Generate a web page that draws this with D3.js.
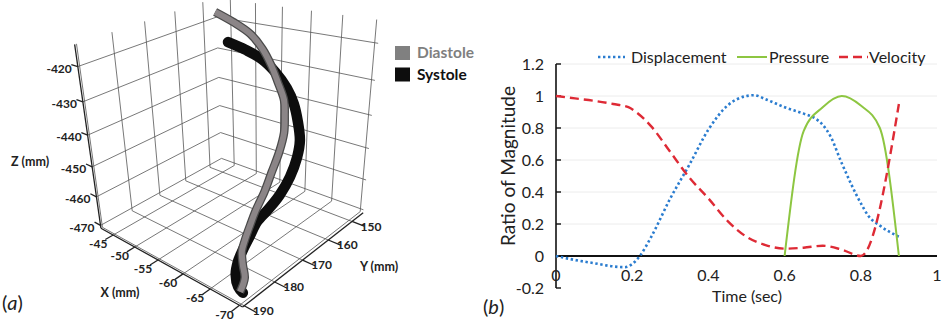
<!DOCTYPE html>
<html><head><meta charset="utf-8">
<script src="https://cdnjs.cloudflare.com/ajax/libs/d3/7.8.5/d3.min.js"></script>
<style>
body{margin:0;background:#fff;}
svg text{font-family:Lato,"Open Sans",sans-serif;fill:#222;}
</style>
</head><body>
<svg id="fig" width="946" height="324"></svg>
<script>
// ---------- panel (a): 3D centre lines (mm)
var diastole = [
  [-47.9,155.9,-414.0],[-51.5,156.2,-415.9],[-54.9,156.7,-418.2],[-57.7,158.0,-421.1],
  [-60.0,159.7,-424.2],[-62.0,161.5,-427.5],[-63.9,163.3,-431.0],[-65.0,165.4,-433.9],
  [-65.9,167.5,-437.3],[-66.5,170.4,-441.0],[-66.8,173.5,-444.9],[-67.1,176.5,-448.7],
  [-67.2,179.5,-452.2],[-67.4,181.8,-455.1],[-67.6,183.9,-458.0],[-67.8,185.3,-460.3],
  [-68.6,186.6,-462.8],[-69.4,187.6,-465.3],[-69.6,189.5,-468.0]
];
var systole = [
  [-52.9,160.7,-419.8],[-55.8,160.1,-421.3],[-58.5,159.8,-423.1],[-61.1,160.4,-425.6],
  [-63.4,161.3,-428.7],[-65.2,162.7,-431.7],[-66.7,164.5,-435.2],[-68.0,166.6,-438.7],
  [-68.6,168.8,-442.0],[-68.9,171.8,-445.8],[-68.8,175.0,-449.3],[-68.4,177.8,-452.0],
  [-67.9,180.6,-454.5],[-67.9,182.9,-457.2],[-67.9,185.2,-459.9],[-68.0,187.0,-462.2],
  [-68.4,188.5,-464.7],[-69.2,189.3,-467.0],[-69.9,189.2,-468.2]
];
var xTicks = [-45, -50, -55, -60, -65, -70];
var yTicks = [150, 160, 170, 180, 190];
var zTicks = [-470, -460, -450, -440, -430, -420];
var xLim = [-42, -70.5], yLim = [190.5, 145], zLim = [-471, -414];
var legendA = ["Diastole", "Systole"];

// ---------- panel (b): normalised curves
var timeTicks = [0, 0.2, 0.4, 0.6, 0.8, 1];
var ratioTicks = [-0.2, 0, 0.2, 0.4, 0.6, 0.8, 1, 1.2];
var dispT = [0, 0.05, 0.1, 0.15, 0.18, 0.2, 0.22, 0.25, 0.3, 0.35, 0.4, 0.45, 0.5, 0.52, 0.55, 0.6, 0.65, 0.68, 0.7, 0.72, 0.75, 0.8, 0.82, 0.85, 0.9];
var dispV = [0, -0.025, -0.045, -0.065, -0.07, -0.05, 0, 0.12, 0.36, 0.57, 0.79, 0.94, 1.0, 1.005, 0.98, 0.93, 0.89, 0.86, 0.82, 0.75, 0.58, 0.33, 0.25, 0.19, 0.12];
var presT = [0.6, 0.65, 0.7, 0.75, 0.8, 0.85, 0.9];
var presV = [0, 0.78, 0.93, 1.0, 0.94, 0.8, 0];
var veloT = [0, 0.05, 0.1, 0.15, 0.19, 0.21, 0.25, 0.3, 0.35, 0.4, 0.45, 0.5, 0.55, 0.6, 0.65, 0.7, 0.75, 0.8, 0.9];
var veloV = [1, 0.985, 0.97, 0.95, 0.93, 0.9, 0.81, 0.65, 0.49, 0.36, 0.22, 0.12, 0.068, 0.046, 0.052, 0.064, 0.04, 0, 0.95];
var seriesNames = ["Displacement", "Pressure", "Velocity"];

var svg = d3.select("#fig");

// ================= panel (a) =================
var xs = d3.scaleLinear().domain(xLim).range([0, 1]);
var ys = d3.scaleLinear().domain(yLim).range([0, 1]);
var zs = d3.scaleLinear().domain(zLim).range([0, 1]);

// where some box corners sit on the page; a perspective camera is fitted to them
var anchors = [
  [[-42, 190.5, -471], [101, 228]],
  [[-70.5, 190.5, -471], [243, 307]],
  [[-70.5, 145, -471], [363, 213]],
  [[-42, 190.5, -420], [78, 67]],
  [[-42, 190.5, -440], [87, 135]],
  [[-70.5, 145, -420], [378, 43]],
  [[-42, 145, -420], [217, 17]]
];

function solve(A, b) {
  var n = b.length, M = A.map(function (r, i) { return r.concat([b[i]]); });
  for (var c = 0; c < n; c++) {
    var p = c;
    for (var r = c + 1; r < n; r++) if (Math.abs(M[r][c]) > Math.abs(M[p][c])) p = r;
    var t = M[c]; M[c] = M[p]; M[p] = t;
    for (var r2 = 0; r2 < n; r2++) {
      if (r2 === c) continue;
      var f = M[r2][c] / M[c][c];
      for (var k = c; k <= n; k++) M[r2][k] -= f * M[c][k];
    }
  }
  return M.map(function (r, i) { return r[n] / r[i]; });
}

var rows = [], rhs = [];
anchors.forEach(function (a) {
  var X = xs(a[0][0]), Y = ys(a[0][1]), Z = zs(a[0][2]), u = a[1][0], v = a[1][1];
  rows.push([X, Y, Z, 1, 0, 0, 0, 0, -u * X, -u * Y, -u * Z]); rhs.push(u);
  rows.push([0, 0, 0, 0, X, Y, Z, 1, -v * X, -v * Y, -v * Z]); rhs.push(v);
});
var N = [], nb = [];
for (var i = 0; i < 11; i++) {
  N.push([]); nb.push(0);
  for (var j = 0; j < 11; j++) {
    var s = 0;
    for (var r = 0; r < rows.length; r++) s += rows[r][i] * rows[r][j];
    N[i].push(s);
  }
  for (var r = 0; r < rows.length; r++) nb[i] += rows[r][i] * rhs[r];
}
var P = solve(N, nb);

function proj(x, y, z) {
  var X = xs(x), Y = ys(y), Z = zs(z);
  var w = P[8] * X + P[9] * Y + P[10] * Z + 1;
  return [(P[0] * X + P[1] * Y + P[2] * Z + P[3]) / w, (P[4] * X + P[5] * Y + P[6] * Z + P[7]) / w];
}
function seg(p, q) {
  var a = proj(p[0], p[1], p[2]), b = proj(q[0], q[1], q[2]);
  return "M" + a[0] + "," + a[1] + "L" + b[0] + "," + b[1];
}

var ga = svg.append("g");

// back walls and floor grid
var grid = [];
yTicks.forEach(function (y) { grid.push(seg([xLim[0], y, zLim[0]], [xLim[0], y, zLim[1]])); });
zTicks.forEach(function (z) { grid.push(seg([xLim[0], yLim[0], z], [xLim[0], yLim[1], z])); });
xTicks.forEach(function (x) { grid.push(seg([x, yLim[1], zLim[0]], [x, yLim[1], zLim[1]])); });
zTicks.forEach(function (z) { grid.push(seg([xLim[0], yLim[1], z], [xLim[1], yLim[1], z])); });
xTicks.forEach(function (x) { grid.push(seg([x, yLim[0], zLim[0]], [x, yLim[1], zLim[0]])); });
yTicks.forEach(function (y) { grid.push(seg([xLim[0], y, zLim[0]], [xLim[1], y, zLim[0]])); });
ga.selectAll("path.grid").data(grid).enter().append("path").attr("class", "grid")
  .attr("d", function (d) { return d; }).attr("fill", "none").attr("stroke", "#555").attr("stroke-width", 0.8);

// axis lines and ticks
var axes = [
  seg([xLim[0], yLim[0], zLim[0]], [xLim[0], yLim[0], zLim[1]]),
  seg([xLim[0], yLim[0], zLim[0]], [xLim[1], yLim[0], zLim[0]]),
  seg([xLim[1], yLim[0], zLim[0]], [xLim[1], yLim[1], zLim[0]])
];
xTicks.forEach(function (x) { axes.push(seg([x, yLim[0], zLim[0]], [x, 193, zLim[0]])); });
yTicks.forEach(function (y) { axes.push(seg([xLim[1], y, zLim[0]], [-72.5, y, zLim[0]])); });
zTicks.forEach(function (z) { axes.push(seg([xLim[0], yLim[0], z], [-40.5, yLim[0], z])); });
ga.selectAll("path.ax").data(axes).enter().append("path").attr("class", "ax")
  .attr("d", function (d) { return d; }).attr("fill", "none").attr("stroke", "#222").attr("stroke-width", 1.3);

// tick labels
ga.selectAll("text.zt").data(zTicks).enter().append("text").attr("class", "zt")
  .attr("x", function (d) { return proj(xLim[0], yLim[0], d)[0] - 6; })
  .attr("y", function (d) { return proj(xLim[0], yLim[0], d)[1] + 2; })
  .attr("text-anchor", "end").attr("dy", "0.35em")
  .style("font-size", "12px").style("font-weight", 700).text(function (d) { return d; });
ga.selectAll("text.xt").data(xTicks).enter().append("text").attr("class", "xt")
  .attr("x", function (d) { return proj(d, yLim[0], zLim[0])[0] - 15; })
  .attr("y", function (d) { return proj(d, yLim[0], zLim[0])[1] + 9; })
  .attr("text-anchor", "middle").attr("dy", "0.35em")
  .style("font-size", "12px").style("font-weight", 700).text(function (d) { return d; });
ga.selectAll("text.yt").data(yTicks).enter().append("text").attr("class", "yt")
  .attr("x", function (d) { return proj(xLim[1], d, zLim[0])[0] + 19; })
  .attr("y", function (d) { return proj(xLim[1], d, zLim[0])[1] + 5; })
  .attr("text-anchor", "middle").attr("dy", "0.35em")
  .style("font-size", "12px").style("font-weight", 700).text(function (d) { return d; });

ga.append("text").attr("x", 30).attr("y", 162).attr("dy", "0.35em").attr("text-anchor", "middle")
  .style("font-size", "12.5px").style("font-weight", 700).text("Z (mm)");
ga.append("text").attr("x", 120).attr("y", 293).attr("dy", "0.35em").attr("text-anchor", "middle")
  .style("font-size", "12.5px").style("font-weight", 700).text("X (mm)");
ga.append("text").attr("x", 379).attr("y", 267).attr("dy", "0.35em").attr("text-anchor", "middle")
  .style("font-size", "12.5px").style("font-weight", 700).text("Y (mm)");

// tubes
var tube = d3.line().curve(d3.curveCatmullRom)
  .x(function (d) { return proj(d[0], d[1], d[2])[0]; })
  .y(function (d) { return proj(d[0], d[1], d[2])[1]; });
ga.append("path").attr("d", tube(systole)).attr("fill", "none")
  .attr("stroke", "#0d0d0d").attr("stroke-width", 10.5).attr("stroke-linecap", "round").attr("stroke-linejoin", "round");
ga.append("path").attr("d", tube(diastole)).attr("fill", "none")
  .attr("stroke", "#4a4a4a").attr("stroke-width", 8.5).attr("stroke-linejoin", "round");
ga.append("path").attr("d", tube(diastole)).attr("fill", "none")
  .attr("stroke", "#8b8587").attr("stroke-width", 6).attr("stroke-linejoin", "round");

// legend
var legColA = d3.scaleOrdinal().domain(legendA).range(["#808080", "#0d0d0d"]);
var legA = ga.selectAll("g.leg").data(legendA).enter().append("g").attr("class", "leg")
  .attr("transform", function (d, i) { return "translate(395," + (46 + i * 21.5) + ")"; });
legA.append("rect").attr("width", 15).attr("height", 14).attr("fill", legColA);
legA.append("text").attr("x", 22).attr("y", 7).attr("dy", "0.35em")
  .style("font-size", "15.5px").style("font-weight", 700)
  .style("fill", function (d) { return d === "Diastole" ? "#7f7f7f" : "#111"; })
  .text(function (d) { return d; });

var la = svg.append("text").attr("x", 2).attr("y", 310).style("font-size", "20px");
la.append("tspan").text("(");
la.append("tspan").style("font-style", "italic").text("a");
la.append("tspan").text(")");

// ================= panel (b) =================
var xb = d3.scaleLinear().domain([0, 1]).range([556, 937]);
var yb = d3.scaleLinear().domain([-0.2, 1.2]).range([288, 64]);
var gb = svg.append("g");

gb.selectAll("line.gr").data(ratioTicks.filter(function (d) { return d > 0; })).enter().append("line")
  .attr("class", "gr").attr("x1", xb(0)).attr("x2", xb(1))
  .attr("y1", yb).attr("y2", yb).attr("stroke", "#ececec").attr("stroke-width", 1);

gb.append("line").attr("x1", xb(0)).attr("x2", xb(0)).attr("y1", yb(1.2)).attr("y2", yb(-0.2))
  .attr("stroke", "#111").attr("stroke-width", 1.6);
gb.selectAll("line.tk").data(ratioTicks).enter().append("line").attr("class", "tk")
  .attr("x1", xb(0)).attr("x2", xb(0) + 5).attr("y1", yb).attr("y2", yb)
  .attr("stroke", "#111").attr("stroke-width", 1.4);
gb.append("line").attr("x1", xb(0)).attr("x2", xb(1)).attr("y1", yb(0)).attr("y2", yb(0))
  .attr("stroke", "#111").attr("stroke-width", 2.2);

gb.selectAll("text.yl").data(ratioTicks).enter().append("text").attr("class", "yl")
  .attr("x", 544).attr("y", yb).attr("dy", "0.35em").attr("text-anchor", "end")
  .style("font-size", "16px").text(function (d) { return d; });
gb.selectAll("text.xl").data(timeTicks).enter().append("text").attr("class", "xl")
  .attr("x", xb).attr("y", 275).attr("dy", "0.35em").attr("text-anchor", "middle")
  .style("font-size", "16px").text(function (d) { return d; });

gb.append("text").attr("x", 747).attr("y", 296).attr("dy", "0.35em").attr("text-anchor", "middle")
  .style("font-size", "16px").text("Time (sec)");
gb.append("text").attr("transform", "translate(508,166) rotate(-90)").attr("dy", "0.35em")
  .attr("text-anchor", "middle").style("font-size", "19px").text("Ratio of Magnitude");

var lineB = d3.line().curve(d3.curveMonotoneX).x(function (d) { return xb(d[0]); }).y(function (d) { return yb(d[1]); });
var styles = {
  Displacement: { color: "#2a7ccf", width: 2.6, dash: "2.4 2.6" },
  Pressure: { color: "#8dc641", width: 2, dash: null },
  Velocity: { color: "#de2a35", width: 2.4, dash: "9 5" }
};
var seriesData = {
  Displacement: d3.zip(dispT, dispV),
  Pressure: d3.zip(presT, presV),
  Velocity: d3.zip(veloT, veloV)
};
seriesNames.forEach(function (n) {
  var st = styles[n];
  gb.append("path").attr("d", lineB(seriesData[n]))
    .attr("fill", "none").attr("stroke", st.color).attr("stroke-width", st.width)
    .attr("stroke-dasharray", st.dash);
});

// legend (b)
var legX = { Displacement: [598, 625, 631], Pressure: [737, 767, 769], Velocity: [839, 868, 869] };
seriesNames.forEach(function (n) {
  var st = styles[n], p = legX[n];
  gb.append("line").attr("x1", p[0]).attr("x2", p[1]).attr("y1", 57).attr("y2", 57)
    .attr("stroke", st.color).attr("stroke-width", st.width).attr("stroke-dasharray", st.dash);
  gb.append("text").attr("x", p[2]).attr("y", 57).attr("dy", "0.35em").style("font-size", "16px").text(n);
});

var lb = svg.append("text").attr("x", 483).attr("y", 314).style("font-size", "20px");
lb.append("tspan").text("(");
lb.append("tspan").style("font-style", "italic").text("b");
lb.append("tspan").text(")");
</script>
</body></html>
